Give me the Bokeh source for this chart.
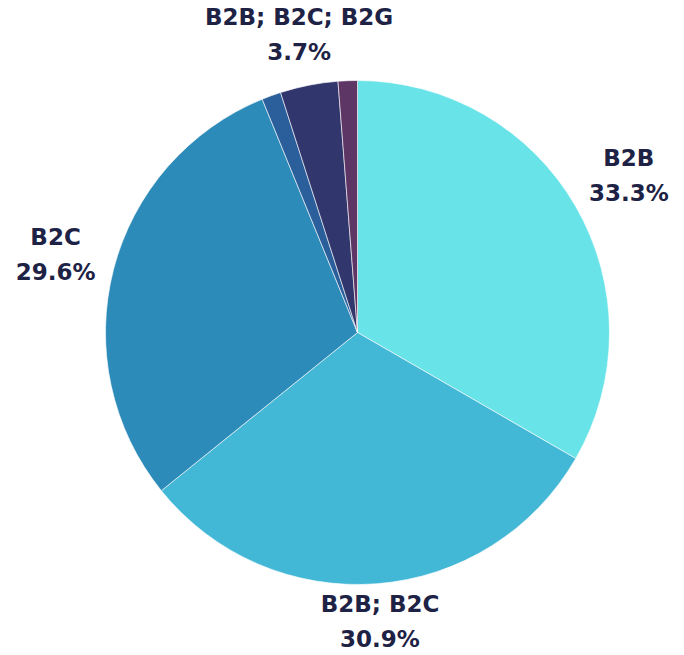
import math
from bokeh.plotting import figure
from bokeh.models import Range1d, ColumnDataSource
from bokeh.core.properties import value
from bokeh.embed import file_html
from bokeh.resources import INLINE

# Data (counts out of 81, clockwise from top)
categories = ["B2B", "B2B; B2C", "B2C", "B2C; B2G", "B2B; B2C; B2G", "B2B; B2G"]
counts = [27, 25, 24, 1, 3, 1]
colors = ["#68E3E8", "#42B7D6", "#2C8BB8", "#2B5F9B", "#31366D", "#5E3665"]
show_label = [True, True, True, False, True, False]

W, H = 684, 655
cx, cy, r = 357, H - 332, 252

total = sum(counts)
starts, ends, mids = [], [], []
a = math.pi / 2
for c in counts:
    sweep = 2 * math.pi * c / total
    starts.append(a)
    ends.append(a - sweep)
    mids.append(a - sweep / 2)
    a -= sweep

p = figure(width=W, height=H, output_backend="svg", toolbar_location=None,
           x_range=Range1d(0, W), y_range=Range1d(0, H), min_border=0)
p.axis.visible = False
p.grid.visible = False
p.outline_line_color = None
p.background_fill_color = "white"
p.border_fill_color = "white"

src = ColumnDataSource(dict(start=starts, end=ends, color=colors))
p.wedge(x=cx, y=cy, radius=r, start_angle="end", end_angle="start",
        fill_color="color", line_color="white", line_width=0.6, source=src)

fs = 23
line_gap = 35
lx, ly1, ly2, t1, t2 = [], [], [], [], []
for cat, c, m, show in zip(categories, counts, mids, show_label):
    if not show:
        continue
    pct = f"{100 * c / total:.1f}%"
    wdt = max(len(cat) * 0.62 * fs, len(pct) * 0.8 * fs)
    hgt = 50
    ext = abs(math.cos(m)) * wdt / 2 + abs(math.sin(m)) * hgt / 2
    d = r + 9 + ext
    x = cx + d * math.cos(m)
    y = cy + d * math.sin(m)
    lx.append(x)
    ly1.append(y + line_gap / 2)
    ly2.append(y - line_gap / 2)
    t1.append(cat)
    t2.append(pct)

lsrc = ColumnDataSource(dict(x=lx, y1=ly1, y2=ly2, t1=t1, t2=t2))
for ycol, tcol in (("y1", "t1"), ("y2", "t2")):
    p.text(x="x", y=ycol, text=tcol, source=lsrc, text_align="center",
           text_baseline="middle", text_font=value("DejaVu Sans"),
           text_font_style="bold", text_font_size=f"{fs}px", text_color="#1E2245")

open("out.html", "w").write(file_html(p, INLINE))
